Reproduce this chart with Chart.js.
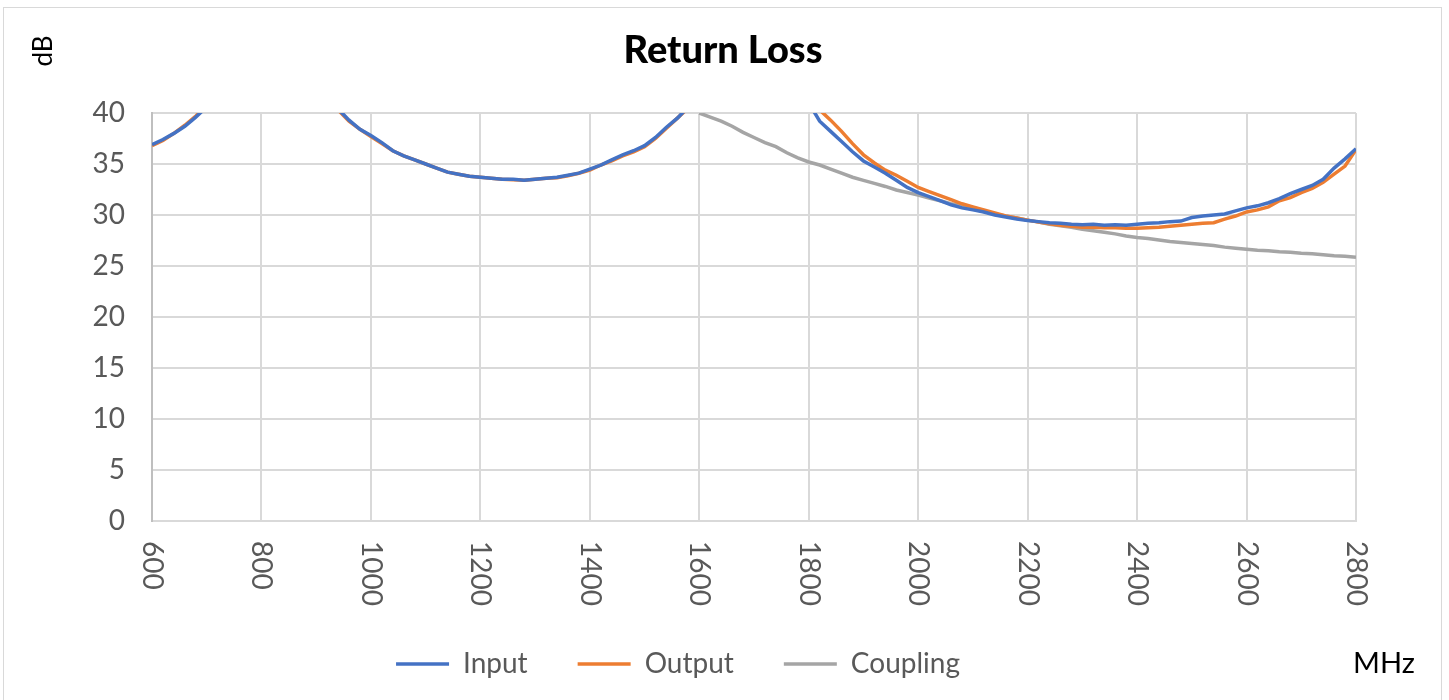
<!DOCTYPE html>
<html>
<head>
<meta charset="utf-8">
<script src="https://cdn.jsdelivr.net/npm/chart.js@4.4.0/dist/chart.umd.min.js"></script>
<style>
  body { margin: 0; background: #fff; overflow: hidden; }
  #wrap { position: relative; width: 1449px; height: 700px; }
  #frame { position: absolute; left: 3px; top: 7px; width: 1437px; height: 720px; border: 1px solid #d9d9d9; pointer-events: none; }
</style>
</head>
<body>
<div id="wrap">
  <canvas id="rlChart" width="1449" height="700"></canvas>
  <div id="frame"></div>
</div>
<script>
// frequency points, MHz
const freqs = [
  600, 620, 640, 660, 680, 700, 720, 740, 760, 780,
  800, 820, 840, 860, 880, 900, 920, 940, 960, 980,
  1000, 1020, 1040, 1060, 1080, 1100, 1120, 1140, 1160, 1180,
  1200, 1220, 1240, 1260, 1280, 1300, 1320, 1340, 1360, 1380,
  1400, 1420, 1440, 1460, 1480, 1500, 1520, 1540, 1560, 1580,
  1600, 1620, 1640, 1660, 1680, 1700, 1720, 1740, 1760, 1780,
  1800, 1820, 1840, 1860, 1880, 1900, 1920, 1940, 1960, 1980,
  2000, 2020, 2040, 2060, 2080, 2100, 2120, 2140, 2160, 2180,
  2200, 2220, 2240, 2260, 2280, 2300, 2320, 2340, 2360, 2380,
  2400, 2420, 2440, 2460, 2480, 2500, 2520, 2540, 2560, 2580,
  2600, 2620, 2640, 2660, 2680, 2700, 2720, 2740, 2760, 2780,
  2800
];

const inputLoss = [
  36.9, 37.4, 38.0, 38.7, 39.6, 40.6, 41.8, 43.0, 44.5, 46.0,
  47.5, 49.0, 49.5, 48.5, 46.5, 44.0, 42.0, 40.4, 39.3, 38.4,
  37.8, 37.1, 36.3, 35.8, 35.4, 35.0, 34.6, 34.2, 34.0, 33.8,
  33.7, 33.6, 33.5, 33.5, 33.4, 33.5, 33.6, 33.7, 33.9, 34.1,
  34.5, 34.9, 35.4, 35.9, 36.3, 36.8, 37.6, 38.6, 39.5, 40.6,
  42.0, 43.5, 45.0, 46.5, 48.0, 49.0, 49.0, 48.0, 46.0, 43.5,
  41.0, 39.2, 38.2, 37.2, 36.2, 35.3, 34.7, 34.1, 33.4, 32.7,
  32.2, 31.8, 31.4, 31.0, 30.7, 30.5, 30.3, 30.0, 29.8, 29.6,
  29.45, 29.35, 29.25, 29.2, 29.1, 29.05, 29.1, 29.0, 29.05, 29.0,
  29.1, 29.2, 29.25, 29.35, 29.4, 29.75, 29.9, 30.0, 30.1, 30.4,
  30.7, 30.9, 31.2, 31.6, 32.1, 32.5, 32.9, 33.5, 34.6, 35.5,
  36.5
];

const outputLoss = [
  36.8, 37.3, 38.0, 38.8, 39.7, 40.7, 41.9, 43.2, 44.6, 46.1,
  47.6, 49.0, 49.4, 48.4, 46.4, 43.9, 41.9, 40.3, 39.2, 38.4,
  37.7, 37.0, 36.3, 35.8, 35.4, 35.0, 34.6, 34.2, 34.0, 33.8,
  33.7, 33.6, 33.5, 33.45, 33.4, 33.5, 33.6, 33.65, 33.85, 34.1,
  34.4, 34.9, 35.3, 35.8, 36.2, 36.7, 37.5, 38.5, 39.5, 40.5,
  42.0, 43.5, 45.5, 47.0, 48.5, 49.5, 49.5, 48.5, 47.0, 45.0,
  42.5, 40.3, 39.3, 38.2, 37.0, 35.9, 35.1, 34.4, 33.9, 33.3,
  32.7, 32.3, 31.9, 31.5, 31.1, 30.8, 30.5, 30.2, 29.9, 29.7,
  29.5, 29.3, 29.15, 29.0, 28.9, 28.8, 28.8, 28.75, 28.75, 28.7,
  28.7, 28.75, 28.8, 28.9, 29.0, 29.1, 29.2, 29.25, 29.6, 29.9,
  30.3, 30.5, 30.8, 31.4, 31.7, 32.2, 32.6, 33.2, 34.0, 34.8,
  36.4
];

const couplingLoss = [
  null, null, null, null, null, null, null, null, null, null,
  null, null, null, null, null, null, null, null, null, null,
  null, null, null, null, null, null, null, null, null, null,
  null, null, null, null, null, null, null, null, null, null,
  null, null, null, null, null, null, null, null, null, null,
  40.0, 39.6, 39.2, 38.7, 38.1, 37.6, 37.1, 36.7, 36.1, 35.6,
  35.2, 34.9, 34.5, 34.1, 33.7, 33.4, 33.1, 32.8, 32.45, 32.2,
  31.95, 31.65, 31.4, 31.1, 30.9, 30.6, 30.35, 30.1, 29.9, 29.7,
  29.5, 29.3, 29.1, 28.95, 28.8, 28.6, 28.45, 28.3, 28.15, 27.95,
  27.8, 27.7, 27.55, 27.4, 27.3, 27.2, 27.1, 27.0, 26.85, 26.75,
  26.65, 26.55, 26.5, 26.4, 26.35, 26.25, 26.2, 26.1, 26.0, 25.95,
  25.85
];

const seriesNames = ["Input", "Output", "Coupling"];
const seriesColors = ["#4472C4", "#ED7D31", "#A5A5A5"];

const FONT = "Lato, 'Open Sans', sans-serif";

function toPoints(values) {
  return freqs.map((f, i) => ({ x: f, y: values[i] }));
}

// extra text: title, axis names and the x tick labels turned clockwise
const textPlugin = {
  id: "textPlugin",
  afterDraw(chart) {
    const ctx = chart.ctx;
    const xs = chart.scales.x;

    ctx.save();
    ctx.fillStyle = "#595959";
    ctx.font = "28px " + FONT;
    ctx.textAlign = "left";
    ctx.textBaseline = "middle";
    xs.ticks.forEach(t => {
      const px = xs.getPixelForValue(t.value);
      ctx.save();
      ctx.translate(px, chart.chartArea.bottom + 20);
      ctx.rotate(Math.PI / 2);
      ctx.fillText(String(t.value), 0, 0);
      ctx.restore();
    });

    ctx.fillStyle = "#000";
    ctx.font = "900 38px " + FONT;
    ctx.textAlign = "center";
    ctx.fillText("Return Loss", 723, 51);

    ctx.font = "26px " + FONT;
    ctx.save();
    ctx.translate(44, 51);
    ctx.rotate(-Math.PI / 2);
    ctx.fillText("dB", 0, 0);
    ctx.restore();

    ctx.font = "29px " + FONT;
    ctx.fillText("MHz", 1384, 664);
    ctx.restore();
  }
};

const ctx = document.getElementById("rlChart").getContext("2d");
const rlChart = new Chart(ctx, {
  type: "line",
  data: {
    datasets: [inputLoss, outputLoss, couplingLoss].map((vals, i) => ({
      label: seriesNames[i],
      data: toPoints(vals),
      borderColor: seriesColors[i],
      backgroundColor: seriesColors[i],
      borderWidth: 3.5,
      pointRadius: 0,
      tension: 0,
      clip: 0
    }))
  },
  options: {
    responsive: false,
    animation: false,
    devicePixelRatio: 1,
    layout: { padding: { top: 113, right: 93, bottom: 12, left: 0 } },
    plugins: {
      legend: {
        position: "bottom",
        labels: {
          usePointStyle: true,
          pointStyle: "line",
          pointStyleWidth: 53,
          padding: 50,
          color: "#595959",
          font: { family: FONT, size: 28 }
        }
      },
      title: { display: false },
      tooltip: { enabled: false }
    },
    scales: {
      x: {
        type: "linear",
        min: 600,
        max: 2800,
        ticks: { stepSize: 200, display: false },
        grid: { color: "#d9d9d9", lineWidth: 2, drawTicks: false },
        border: { color: "#d9d9d9", width: 2 },
        afterFit(scale) { scale.height = 79; }
      },
      y: {
        min: 0,
        max: 40,
        ticks: {
          stepSize: 5,
          padding: 27,
          color: "#595959",
          font: { family: FONT, size: 28 }
        },
        grid: { color: "#d9d9d9", lineWidth: 2, drawTicks: false },
        border: { color: "#bfbfbf", width: 2 },
        afterFit(scale) { scale.width = 152; }
      }
    }
  },
  plugins: [textPlugin]
});
</script>
</body>
</html>
